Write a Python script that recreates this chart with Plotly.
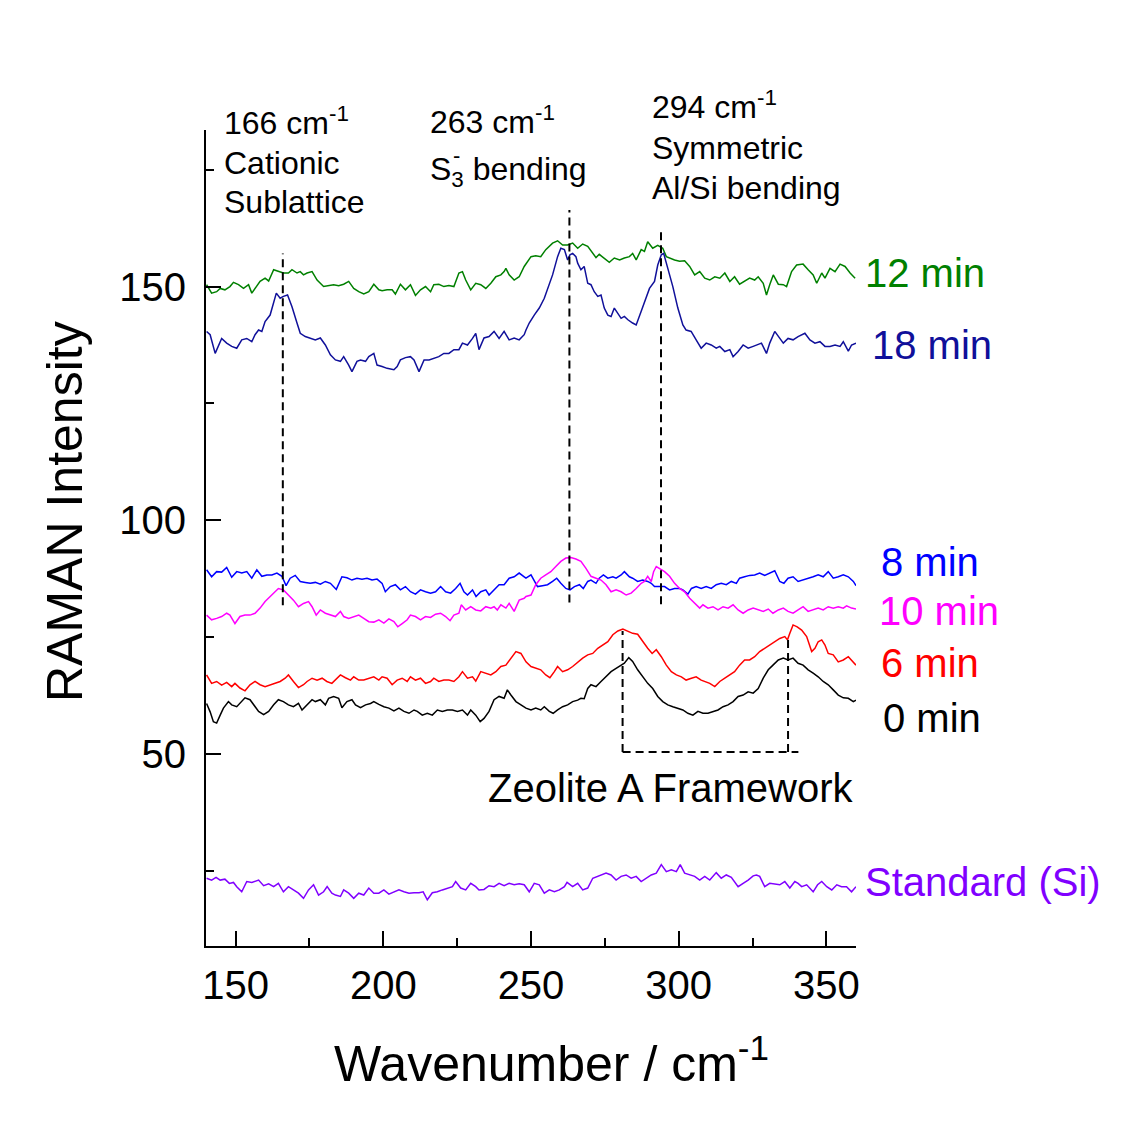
import plotly.graph_objects as go

# ---------------- spectra (wavenumber in cm^-1, Raman intensity, offset traces) ----------------
wn_12 = [140.2, 141.9, 143.6, 144.8, 146.4, 148.1, 149.3, 151.0, 152.7, 154.4,
         155.5, 156.6, 158.3, 160.0, 161.2, 162.9, 164.5, 166.2, 167.9, 169.1,
         170.8, 171.9, 173.0, 174.2, 175.9, 177.6, 179.8, 181.5, 183.2, 184.9,
         186.6, 188.3, 190.0, 191.7, 193.4, 195.1, 196.8, 198.5, 199.6, 201.3,
         203.0, 204.1, 205.8, 207.5, 209.2, 210.9, 212.6, 214.3, 216.0, 217.1,
         218.8, 220.5, 222.2, 223.9, 225.6, 226.8, 227.9, 229.6, 231.3, 233.0,
         234.7, 236.4, 238.1, 239.8, 240.9, 241.5, 242.6, 244.3, 246.0, 247.7,
         250.0, 251.6, 253.3, 255.0, 257.3, 259.0, 260.7, 262.4, 264.1, 265.8,
         267.5, 269.2, 270.9, 272.0, 273.1, 274.8, 276.5, 278.2, 280.0, 281.6,
         283.3, 284.4, 285.6, 287.3, 288.4, 289.5, 291.2, 292.9, 294.6, 295.8,
         296.9, 298.6, 300.3, 302.0, 303.7, 305.4, 307.1, 308.8, 310.5, 312.2,
         313.9, 315.6, 317.3, 318.9, 320.6, 322.3, 324.0, 325.7, 326.9, 328.6,
         329.7, 330.8, 332.0, 333.7, 335.4, 336.5, 338.2, 339.9, 342.1, 343.8,
         345.5, 346.7, 348.4, 349.5, 351.2, 352.9, 354.6, 356.3, 358.0, 359.7]
int_12 = [150.4, 148.6, 148.9, 149.6, 149.3, 150.0, 150.9, 150.4, 149.6, 150.4,
          148.6, 149.6, 151.1, 151.8, 151.2, 153.6, 153.2, 152.9, 152.9, 153.6,
          152.9, 153.2, 152.5, 152.9, 153.2, 151.4, 150.0, 150.2, 150.4, 150.2,
          150.5, 151.1, 149.6, 148.9, 148.4, 148.9, 150.5, 149.3, 149.1, 149.3,
          149.3, 148.4, 150.5, 149.3, 150.4, 148.1, 149.3, 150.0, 148.9, 150.4,
          150.5, 150.0, 150.2, 150.0, 152.9, 153.2, 151.4, 149.3, 150.7, 150.4,
          149.6, 150.7, 152.1, 152.5, 153.2, 153.9, 152.5, 151.4, 152.1, 154.3,
          156.4, 156.6, 156.4, 157.9, 159.3, 159.8, 158.9, 158.9, 159.3, 158.2,
          159.1, 158.6, 157.1, 156.2, 156.9, 156.1, 155.2, 156.1, 155.7, 156.1,
          156.4, 157.1, 155.7, 157.9, 157.5, 159.6, 158.2, 158.8, 158.2, 156.4,
          156.1, 155.7, 155.4, 155.5, 154.3, 152.5, 153.2, 151.8, 151.4, 152.1,
          151.8, 152.9, 151.1, 152.1, 150.5, 151.1, 151.8, 151.4, 152.1, 150.7,
          148.2, 150.4, 152.5, 150.5, 150.4, 150.0, 153.2, 154.6, 154.8, 153.6,
          152.5, 150.7, 152.9, 151.8, 153.9, 153.2, 154.8, 154.3, 152.9, 151.8]

wn_18 = [140.2, 141.4, 143.1, 144.2, 145.3, 147.0, 148.7, 150.4, 152.1, 153.8,
         155.5, 156.6, 157.8, 158.9, 160.0, 161.7, 162.9, 163.8, 165.1, 166.2,
         167.6, 169.1, 170.8, 171.9, 173.6, 175.3, 177.0, 178.7, 180.4, 182.1,
         183.8, 185.5, 186.6, 188.3, 189.4, 191.1, 192.3, 194.0, 195.1, 196.8,
         197.9, 199.6, 201.3, 203.6, 204.7, 205.8, 207.5, 209.2, 210.4, 212.1,
         213.8, 215.5, 217.1, 218.8, 220.5, 222.2, 223.9, 225.6, 226.8, 228.5,
         230.2, 231.3, 232.4, 234.1, 235.8, 237.5, 239.2, 240.9, 242.6, 244.3,
         246.0, 247.7,
         248.3, 249.4, 251.1, 252.8, 254.5, 256.2, 257.3, 259.0, 260.1, 261.3,
         262.4, 263.2, 264.1, 265.2, 265.8, 266.9, 268.0, 269.2, 270.3, 271.4,
         272.6, 273.7, 274.8, 276.0, 277.1, 278.2, 279.4, 280.5, 281.6, 282.8,
         284.4, 285.6, 287.3, 288.4, 290.1, 291.8, 292.9, 294.1, 294.9, 296.3,
         298.0, 299.7, 301.4, 302.5, 304.2, 305.9, 307.6, 309.3, 311.0, 312.7,
         313.9, 315.6, 317.3, 318.4, 320.1, 321.8, 323.5, 325.2, 326.3, 328.0,
         329.7, 330.8, 332.5, 334.2, 335.4, 337.0, 338.7, 340.4, 342.7, 344.4,
         346.1, 347.8, 349.5, 351.2, 352.9, 354.6, 355.7, 357.4, 358.5, 360.0]
int_18 = [140.4, 139.7, 135.7, 137.2, 138.9, 137.9, 137.2, 136.8, 138.6, 138.9,
          138.2, 139.7, 140.7, 140.4, 142.5, 143.9, 146.4, 148.6, 147.5, 147.9,
          148.2, 145.7, 142.2, 140.0, 139.3, 139.0, 138.6, 139.0, 137.5, 135.4,
          134.3, 134.0, 135.0, 133.2, 131.8, 134.0, 134.3, 134.0, 135.0, 135.7,
          133.2, 132.9, 132.5, 132.2, 132.9, 134.3, 134.8, 135.0, 134.3, 131.8,
          134.3, 134.3, 134.7, 135.0, 135.7, 135.7, 136.5, 136.5, 137.9, 137.5,
          138.9, 140.0, 136.5, 139.0, 139.3, 140.4, 138.9, 140.4, 138.6, 139.0,
          138.6, 139.7,
          140.7, 142.2, 143.9, 145.4, 147.5, 150.7, 152.5, 156.4, 158.2, 157.9,
          155.7, 156.8, 157.1, 156.4, 155.0, 153.6, 154.3, 150.7, 150.4, 148.9,
          147.9, 148.2, 145.4, 143.9, 143.6, 145.4, 144.3, 143.2, 143.6, 142.9,
          142.2, 141.8, 144.7, 146.8, 149.6, 151.1, 154.6, 156.8, 157.1, 153.9,
          150.0, 145.4, 141.8, 140.7, 140.4, 138.6, 136.8, 137.9, 137.5, 136.8,
          137.2, 136.1, 136.5, 135.0, 136.1, 137.5, 136.8, 137.2, 137.5, 137.9,
          135.7, 137.9, 140.4, 138.9, 137.9, 138.9, 138.6, 139.3, 140.0, 138.6,
          137.9, 138.2, 137.2, 137.2, 137.5, 137.2, 138.2, 136.2, 137.5, 137.9]

wn_8 = [140.2, 141.9, 143.6, 145.3, 147.0, 148.7, 150.4, 152.1, 153.8, 155.5,
        157.2, 158.9, 160.6, 162.3, 164.0, 165.7, 167.1, 168.5, 170.2, 171.9,
        173.6, 175.3, 177.0, 178.7, 180.4, 182.1, 184.1, 186.0, 187.7, 189.4,
        191.1, 192.8, 194.5, 196.2, 197.9, 199.6, 200.7, 202.4, 204.1, 205.8,
        207.5, 209.2, 210.9, 212.6, 214.3, 216.0, 217.7, 219.4, 221.1, 222.8,
        224.5, 226.0, 227.3, 228.5, 230.2, 231.4, 233.0, 234.7, 235.8, 237.5,
        239.2, 240.9, 242.6, 244.3, 246.0, 247.7,
        248.3, 250.0, 251.1, 252.2, 253.9, 255.6, 257.3, 258.7, 260.1, 261.8,
        263.2, 264.7, 266.4, 267.7, 269.2, 270.3, 272.0, 273.1, 274.5, 276.0,
        277.7, 278.8, 280.5, 281.6, 283.3, 284.4, 286.1, 287.8, 289.5, 290.7,
        291.8, 293.5, 295.2, 296.9, 298.6, 300.3, 301.4, 303.1, 304.3, 305.9,
        307.6, 309.3, 311.0, 312.7, 314.4, 316.1, 317.8, 319.5, 320.6, 322.3,
        324.0, 325.7, 327.4, 329.1, 330.8, 332.5, 334.2, 335.6, 337.0, 338.7,
        340.4, 342.1, 343.8, 345.5, 347.2, 348.9, 350.6, 352.3, 354.0, 355.7,
        357.4, 359.1, 360.0]
int_8 = [89.4, 87.9, 89.0, 88.9, 89.9, 87.8, 89.0, 88.7, 89.0, 87.6,
         89.4, 88.0, 88.3, 88.3, 88.7, 88.0, 86.0, 87.6, 88.2, 86.9,
         86.7, 86.5, 86.7, 86.3, 86.9, 86.5, 85.2, 87.9, 87.7, 87.2,
         87.6, 87.4, 87.6, 87.2, 87.4, 86.5, 84.7, 85.8, 86.2, 85.1,
         85.8, 84.7, 84.2, 85.1, 84.7, 84.4, 84.7, 85.8, 84.7, 84.4,
         85.4, 86.5, 84.7, 84.0, 85.1, 83.7, 84.7, 85.1, 84.0, 85.1,
         86.2, 86.2, 87.6, 87.9, 88.7, 87.9,
         87.6, 88.3, 86.9, 85.8, 86.0, 86.2, 86.9, 87.6, 86.5, 85.4,
         85.1, 85.8, 86.2, 85.4, 86.9, 87.2, 86.5, 87.6, 88.3, 87.6,
         87.9, 87.6, 88.3, 89.0, 87.9, 87.6, 86.9, 87.2, 86.9, 86.5,
         85.8, 85.8, 85.8, 85.1, 85.4, 85.4, 85.1, 84.2, 85.4, 85.8,
         85.4, 85.8, 85.4, 86.2, 86.5, 86.2, 86.9, 86.5, 87.6, 87.9,
         88.2, 88.3, 88.7, 88.2, 88.7, 89.2, 86.9, 86.5, 87.6, 87.9,
         86.9, 87.2, 87.6, 87.9, 88.3, 87.9, 89.0, 87.6, 87.9, 88.3,
         87.9, 86.9, 86.0]

wn_10 = [140.2, 141.9, 143.6, 145.3, 147.0, 148.1, 149.8, 151.5, 153.2, 154.9,
         156.6, 158.3, 160.0, 161.7, 163.4, 164.5, 166.2, 167.9, 169.6, 171.3,
         173.0, 174.7, 175.9, 177.3, 178.7, 180.4, 182.1, 183.8, 185.5, 186.6,
         188.3, 190.0, 191.7, 193.4, 195.1, 196.8, 198.5, 200.2, 201.9, 203.6,
         204.9, 206.4, 208.1, 209.2, 210.9, 212.6, 214.3, 216.0, 217.7, 219.4,
         221.1, 222.6, 223.9, 225.6, 226.4, 227.9, 229.6, 231.3, 233.0, 234.7,
         236.4, 237.5, 238.6, 239.8, 241.5, 242.6, 244.3, 246.0, 247.7,
         248.3, 250.0, 251.6, 253.3, 255.0, 256.7, 258.4, 260.1, 261.8, 263.5,
         265.2, 266.9, 268.6, 270.3, 272.0, 273.7, 275.4, 277.1, 278.8, 280.5,
         282.2, 283.9, 285.6, 287.3, 288.4, 289.5, 290.7, 291.5, 292.4, 293.5,
         295.2, 296.9, 298.6, 300.3, 302.0, 303.7, 305.4, 307.1, 308.2, 309.9,
         311.6, 313.3, 315.0, 316.7, 318.4, 320.1, 321.8, 323.5, 325.2, 326.9,
         328.6, 330.3, 331.9, 333.7, 335.4, 337.0, 338.7, 340.4, 342.1, 343.8,
         345.5, 347.2, 348.9, 350.6, 352.3, 354.0, 355.7, 356.8, 358.5, 360.0]
int_10 = [79.7, 78.7, 79.0, 79.4, 80.1, 79.7, 77.9, 79.4, 79.7, 79.7,
          80.1, 81.2, 82.6, 83.7, 84.7, 85.4, 85.1, 84.0, 82.9, 81.5,
          82.2, 82.6, 81.5, 79.7, 80.8, 80.1, 79.7, 79.4, 80.5, 79.4,
          79.0, 79.4, 79.7, 79.0, 78.3, 78.2, 78.7, 78.0, 78.9, 78.3,
          77.2, 77.9, 78.7, 79.7, 79.4, 78.7, 79.4, 79.2, 79.9, 80.1,
          79.4, 78.5, 79.7, 80.1, 81.9, 80.8, 81.5, 80.8, 80.6, 81.5,
          81.2, 81.5, 80.8, 81.9, 81.2, 82.2, 80.5, 82.9, 83.3,
          83.7, 84.0, 86.2, 87.6, 88.3, 89.0, 90.1, 91.2, 91.9, 92.0,
          91.7, 91.2, 89.7, 88.0, 87.6, 87.2, 86.2, 84.7, 85.1, 84.7,
          84.0, 84.4, 85.4, 86.5, 86.9, 88.0, 86.9, 89.0, 90.1, 89.7,
          89.0, 88.0, 86.5, 85.4, 84.7, 83.3, 82.2, 81.2, 81.9, 81.2,
          81.5, 80.8, 81.5, 81.2, 81.9, 80.8, 80.1, 80.8, 81.2, 80.8,
          80.5, 81.0, 80.1, 80.8, 81.2, 80.5, 80.1, 80.8, 81.5, 80.5,
          80.8, 81.2, 80.8, 81.5, 81.2, 81.5, 81.2, 81.7, 81.2, 81.0]

wn_6 = [140.2, 141.9, 143.6, 145.3, 147.0, 148.7, 149.8, 151.5, 153.2, 154.9,
        156.6, 158.3, 160.0, 161.7, 163.4, 165.1, 166.8, 167.9, 169.6, 171.3,
        173.0, 174.2, 175.9, 177.6, 179.3, 180.9, 182.6, 183.8, 185.5, 187.2,
        188.9, 190.0, 191.7, 193.4, 195.1, 196.8, 198.5, 199.6, 201.3, 203.0,
        204.7, 206.4, 208.1, 209.2, 210.9, 212.6, 214.3, 216.0, 217.1, 218.8,
        220.5, 222.2, 223.9, 225.6, 226.8, 228.5, 230.2, 231.3, 233.0, 234.7,
        236.4, 238.1, 239.8, 241.5, 243.2, 244.9, 246.6,
        248.3, 250.0, 251.6, 253.3, 255.0, 256.4, 257.9, 259.0, 260.7, 262.4,
        264.1, 265.8, 267.5, 269.2, 270.9, 272.6, 274.3, 276.0, 277.7, 279.4,
        281.1, 282.8, 284.4, 286.1, 287.8, 289.5, 291.0, 292.4, 294.1, 295.8,
        297.5, 299.2, 300.9, 302.5, 304.3, 305.9, 307.6, 309.3, 310.5, 312.2,
        313.9, 315.6, 317.3, 318.9, 320.6, 322.3, 324.0, 325.7, 327.4, 329.1,
        330.8, 332.5, 334.2, 335.9, 336.8, 337.6, 338.7, 340.1, 341.6, 343.3,
        345.0, 346.1, 347.2, 348.4, 349.5, 350.6, 352.3, 354.0, 355.7, 357.4,
        359.1, 360.0]
int_6 = [66.9, 65.1, 65.5, 64.7, 65.3, 64.4, 65.1, 64.1, 63.5, 64.8,
         65.5, 64.8, 64.4, 64.8, 65.1, 65.5, 66.2, 66.9, 65.5, 64.2,
         64.8, 65.5, 66.2, 65.8, 66.2, 65.5, 65.1, 65.8, 66.9, 66.3,
         65.8, 66.5, 65.8, 65.8, 66.2, 66.5, 65.8, 66.5, 66.2, 64.8,
         65.8, 66.2, 65.5, 66.5, 65.8, 66.2, 65.1, 65.5, 66.2, 65.5,
         65.8, 65.8, 65.5, 66.5, 67.6, 66.2, 66.5, 65.6, 67.6, 67.3,
         66.9, 67.6, 68.7, 69.0, 70.5, 71.9, 71.5,
         69.7, 68.7, 68.3, 68.0, 66.9, 66.3, 67.6, 68.7, 67.6, 68.0,
         68.7, 69.7, 70.5, 71.2, 71.5, 72.6, 73.3, 74.0, 75.5, 76.3,
         76.7, 76.2, 75.8, 75.6, 74.0, 72.6, 71.5, 72.3, 70.8, 69.0,
         67.6, 66.9, 66.5, 65.8, 66.2, 66.5, 65.8, 65.3, 65.1, 64.4,
         65.5, 66.2, 66.9, 67.6, 69.0, 70.1, 70.1, 70.8, 71.9, 72.6,
         73.3, 74.0, 74.7, 75.1, 74.4, 75.8, 77.6, 77.2, 76.5, 75.1,
         71.9, 72.6, 74.0, 74.4, 73.3, 71.5, 71.2, 69.7, 70.1, 70.8,
         69.7, 69.0]

wn_0 = [140.2, 141.4, 142.5, 143.6, 144.8, 145.9, 147.6, 148.7, 150.4, 152.1,
        153.2, 154.9, 156.1, 157.8, 159.5, 161.2, 162.9, 164.5, 166.2, 167.9,
        169.6, 171.3, 172.5, 174.2, 175.9, 177.0, 178.7, 180.4, 181.5, 183.2,
        184.9, 186.0, 187.7, 189.4, 190.6, 192.3, 194.0, 195.7, 196.8, 198.5,
        200.2, 201.9, 203.6, 205.3, 207.0, 208.7, 210.4, 211.5, 213.2, 214.9,
        216.6, 218.3, 220.0, 221.7, 223.4, 225.1, 226.8, 228.5, 229.6, 231.3,
        232.8, 234.1, 235.8, 237.5, 239.2, 240.9, 242.0, 243.2, 244.9, 246.6,
        248.3, 250.0, 251.6, 253.3, 254.5, 256.2, 257.5, 259.0, 260.7, 262.4,
        264.1, 265.8, 266.9, 268.0, 269.2, 270.3, 272.0, 273.7, 275.4, 277.1,
        278.8, 280.5, 281.6, 283.1, 284.4, 286.1, 287.8, 289.5, 291.2, 292.9,
        294.6, 296.3, 298.0, 299.7, 301.4, 303.1, 304.8, 306.5, 308.2, 309.9,
        311.6, 313.3, 315.0, 316.7, 318.4, 320.1, 321.8, 323.5, 325.2, 326.9,
        328.6, 330.3, 331.9, 333.7, 335.4, 337.0, 338.7, 340.4, 342.1, 343.8,
        345.5, 347.2, 348.9, 350.6, 352.3, 354.0, 355.7, 357.4, 359.1, 360.0]
int_0 = [60.8, 59.0, 56.9, 56.6, 58.3, 59.8, 61.2, 60.5, 60.1, 61.2,
         62.0, 61.6, 60.5, 59.1, 58.4, 59.1, 60.5, 61.6, 61.2, 60.5,
         60.1, 60.8, 59.4, 60.5, 61.6, 61.2, 61.6, 60.5, 61.9, 62.3,
         61.9, 59.9, 61.2, 61.6, 60.5, 59.9, 60.5, 60.8, 61.2, 60.6,
         60.1, 59.8, 59.2, 59.8, 59.1, 58.7, 59.4, 59.1, 58.3, 58.7,
         58.3, 59.4, 59.1, 59.4, 59.4, 59.1, 59.4, 58.3, 59.4, 58.3,
         56.9, 57.6, 59.1, 61.6, 62.3, 61.9, 63.7, 62.6, 61.2, 60.5,
         59.8, 59.4, 59.8, 59.4, 60.1, 59.1, 58.7, 59.4, 60.1, 60.5,
         61.2, 61.5, 61.9, 61.8, 64.0, 64.8, 64.4, 65.5, 66.5, 67.6,
         68.3, 69.0, 69.4, 70.6, 69.8, 68.0, 66.5, 65.1, 64.0, 62.3,
         61.2, 60.5, 60.1, 59.8, 59.4, 58.7, 58.3, 59.1, 58.7, 58.7,
         59.1, 59.4, 60.1, 60.5, 61.2, 62.3, 62.6, 63.3, 63.0, 64.0,
         66.2, 68.0, 69.0, 70.1, 70.5, 70.1, 70.5, 69.4, 69.0, 68.0,
         67.3, 66.5, 65.5, 64.8, 63.7, 62.6, 62.0, 61.9, 61.2, 61.5]

wn_si = [140.2, 141.9, 143.4, 144.8, 146.4, 147.9, 149.3, 150.4, 152.1, 153.8,
         155.5, 156.6, 157.8, 159.5, 161.2, 162.9, 164.5, 166.2, 167.9, 169.6,
         171.3, 173.0, 174.7, 176.4, 178.1, 179.8, 181.0, 182.6, 183.8, 185.5,
         186.6, 188.3, 190.0, 191.7, 193.4, 195.1, 196.8, 198.5, 200.2, 201.9,
         203.6, 205.3, 207.0, 208.7, 210.4, 212.1, 213.5, 214.9, 216.6, 218.3,
         220.0, 221.7, 223.4, 224.5, 226.2, 227.9, 229.6, 231.3, 232.4, 234.1,
         235.8, 237.5, 239.2, 240.9, 242.6, 244.3, 246.0, 247.7, 249.4, 251.1,
         252.8, 254.5, 256.2, 257.9, 259.6, 261.3, 262.2, 264.1, 265.8, 267.5,
         269.2, 270.9, 272.6,
         273.7, 275.4, 277.1, 278.8, 280.5, 282.2, 283.9, 285.6, 287.3, 289.0,
         290.7, 292.4, 294.1, 295.8, 297.5, 299.2, 300.5, 302.0, 303.7, 305.4,
         307.1, 308.8, 310.5, 312.7, 314.4, 316.1, 317.8, 320.1, 321.8, 323.5,
         325.2, 326.3, 327.4, 329.1, 330.8, 332.5, 334.2, 335.9, 337.6, 339.3,
         340.4, 341.6, 343.3, 345.5, 347.0, 348.4, 350.1, 351.8, 353.5, 355.1,
         356.8, 358.5, 360.0]
int_si = [23.4, 23.0, 23.6, 23.0, 23.2, 22.3, 22.5, 21.6, 20.5, 22.7,
          22.5, 22.7, 23.0, 21.8, 22.2, 21.6, 22.3, 20.5, 21.6, 20.9,
          20.2, 19.1, 20.9, 22.0, 19.8, 20.5, 21.6, 20.2, 19.8, 19.5,
          20.9, 20.2, 19.1, 20.2, 19.8, 21.3, 20.2, 20.2, 20.9, 20.0,
          20.5, 20.9, 20.5, 20.2, 20.3, 20.3, 20.5, 18.8, 20.3, 20.5,
          20.9, 21.3, 21.6, 22.7, 21.3, 20.9, 22.3, 21.6, 20.9, 21.0,
          21.8, 21.6, 22.3, 21.8, 22.3, 22.0, 22.2, 22.0, 20.5, 22.3,
          22.0, 20.2, 20.9, 20.5, 20.9, 21.6, 22.5, 21.6, 22.3, 20.9,
          21.3, 23.4, 23.8,
          24.1, 24.5, 24.1, 23.0, 23.8, 24.1, 23.4, 23.8, 22.7, 23.4,
          24.1, 24.5, 26.3, 24.8, 25.2, 24.8, 26.3, 24.5, 24.1, 23.8,
          23.0, 23.8, 23.0, 24.6, 23.4, 24.1, 23.6, 21.6, 22.3, 23.0,
          23.9, 24.1, 23.8, 21.6, 22.3, 22.2, 22.0, 22.7, 21.3, 22.7,
          22.3, 21.6, 22.0, 20.5, 22.0, 22.7, 21.6, 20.9, 22.0, 21.6,
          21.6, 20.5, 21.6]

# band positions marked with dashed guides (cm^-1)
band_positions = [166, 263, 294]
band_spans = [(81.8, 157.1), (82.4, 166.4), (82.0, 161.8)]
# Zeolite A framework bands and the bracket joining them
framework_bands = [281, 337]
framework_tops = [76.3, 75.4]
framework_base = 50.4
framework_bracket_end = 340.5

x_ticks = [150, 200, 250, 300, 350]
y_ticks = [50, 100, 150]

series = [
    ("12 min", wn_12, int_12, "#008000"),
    ("18 min", wn_18, int_18, "#10109a"),
    ("8 min", wn_8, int_8, "#0000ff"),
    ("10 min", wn_10, int_10, "#ff00ff"),
    ("6 min", wn_6, int_6, "#ff0000"),
    ("0 min", wn_0, int_0, "#000000"),
    ("Standard (Si)", wn_si, int_si, "#8000ff"),
]

FONT = "Liberation Sans, Arial, Helvetica, sans-serif"
W, H = 1130, 1126
L, R, T, B = 206, 274, 130, 180
PW, PH = W - L - R, H - T - B


def px(x):
    return (x - L) / PW


def py(y):
    return (H - B - y) / PH


fig = go.Figure()
for name, xs, ys, col in series:
    fig.add_trace(go.Scatter(x=xs, y=ys, mode="lines", name=name,
                             line=dict(color=col, width=1.5), showlegend=False,
                             hoverinfo="skip"))

dash_style = dict(color="black", width=2, dash="8px,5px")
shapes = []
for xb, (y0, y1) in zip(band_positions, band_spans):
    shapes.append(dict(type="line", xref="x", yref="y", x0=xb, x1=xb, y0=y0, y1=y1,
                       line=dash_style))
for xb, yt in zip(framework_bands, framework_tops):
    shapes.append(dict(type="line", xref="x", yref="y", x0=xb, x1=xb,
                       y0=framework_base, y1=yt, line=dash_style))
shapes.append(dict(type="line", xref="x", yref="y", x0=framework_bands[0],
                   x1=framework_bracket_end, y0=framework_base, y1=framework_base,
                   line=dash_style))

annotations = []


def label(text, x, y, size, color="black"):
    annotations.append(dict(text=text, xref="paper", yref="paper", x=px(x), y=py(y),
                            xanchor="left", yanchor="middle", showarrow=False,
                            font=dict(family=FONT, size=size, color=color)))


# band descriptions
label("166 cm<sup>-1</sup>", 222, 121, 32)
label("Cationic", 222, 163, 32)
label("Sublattice", 222, 202, 32)
label("263 cm<sup>-1</sup>", 428, 120, 32)
label("S<sub>3</sub> bending", 428, 171, 32)
label("-", 451, 155, 22)
label("294 cm<sup>-1</sup>", 650, 105, 32)
label("Symmetric", 650, 148, 32)
label("Al/Si bending", 650, 188, 32)

# trace labels
label("12 min", 863, 273, 40, "#008000")
label("18 min", 870, 345, 40, "#10109a")
label("8 min", 879, 562, 40, "#0000ff")
label("10 min", 877, 611, 40, "#ff00ff")
label("6 min", 879, 663, 40, "#ff0000")
label("0 min", 881, 718, 40, "#000000")
label("Zeolite A Framework", 486, 788, 40)
label("Standard (Si)", 863, 882, 40, "#8000ff")

# axis titles
annotations.append(dict(text="Wavenumber / cm<sup>-1</sup>", xref="paper", yref="paper",
                        x=px(551), y=py(1060), xanchor="center", yanchor="middle",
                        showarrow=False, font=dict(family=FONT, size=50, color="black")))
annotations.append(dict(text="RAMAN Intensity", xref="paper", yref="paper",
                        x=px(65), y=py(512), xanchor="center", yanchor="middle",
                        textangle=-90, showarrow=False,
                        font=dict(family=FONT, size=50, color="black")))

axis_common = dict(showline=True, linecolor="black", linewidth=2, mirror=False,
                   showgrid=False, zeroline=False, ticks="inside", ticklen=15,
                   tickwidth=2, tickcolor="black",
                   tickfont=dict(family=FONT, size=40, color="black"),
                   minor=dict(ticks="inside", ticklen=8, tickwidth=2,
                              tickcolor="black", dtick=25, tick0=0, showgrid=False))

fig.update_layout(
    width=W, height=H,
    margin=dict(l=L, r=R, t=T, b=B, pad=0),
    paper_bgcolor="white", plot_bgcolor="white",
    xaxis=dict(range=[140, 360], tickmode="array", tickvals=x_ticks,
               ticktext=[str(v) for v in x_ticks], ticklabelstandoff=3, **axis_common),
    yaxis=dict(range=[8.9, 183.5], tickmode="array", tickvals=y_ticks,
               ticktext=[str(v) for v in y_ticks], ticklabelstandoff=10, **axis_common),
    shapes=shapes,
    annotations=annotations,
    showlegend=False,
)

fig.write_html("out.html")
